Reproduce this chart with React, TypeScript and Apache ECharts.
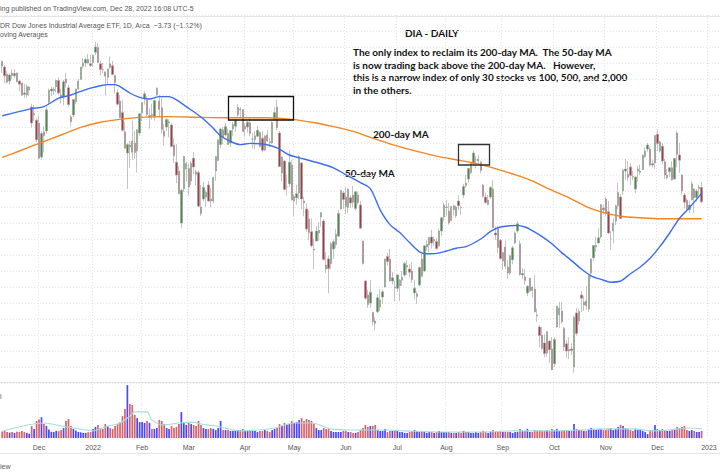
import { useEffect, useRef } from "react";
import * as echarts from "echarts";

// ---- Trading calendar (categories) ----
const HOLIDAYS = ["2021-11-25","2021-12-24","2022-01-17","2022-02-21","2022-04-15","2022-05-30","2022-06-20","2022-07-04","2022-09-05","2022-11-24","2022-12-26","2023-01-02"];
const FIRST_DAY = "2021-11-09";
const CATEGORY_COUNT = 293; // includes a few empty future sessions (right margin)
const MONTHS = ["Jan","Feb","Mar","Apr","May","Jun","Jul","Aug","Sep","Oct","Nov","Dec"];

// ---- Daily bars [open, high, low, close] ----
const nov21 = [[364.4,364.6,361.5,363.2],[363.0,363.4,358.9,360.8],[361.2,362.0,358.9,359.2],[359.5,361.4,358.6,361.0],[361.5,362.4,359.9,360.9],[360.8,362.5,360.3,361.4],[361.5,361.6,359.2,359.3],[359.5,359.6,356.9,358.7],[359.0,359.0,355.7,356.0],[356.5,358.8,355.4,356.2],[356.0,358.7,355.4,358.1],[357.2,358.2,355.8,358.0],[353.0,353.8,347.9,349.0],[351.0,353.5,349.5,351.4],[349.7,350.2,344.2,344.8]];
const dec21 = [[349.0,350.9,340.0,340.2],[340.5,346.9,339.9,346.4],[346.8,348.2,341.6,345.8],[347.0,353.0,346.3,352.3],[354.2,357.6,353.6,357.2],[357.0,358.1,355.7,357.5],[357.1,358.0,356.0,357.5],[358.0,359.8,356.7,359.7],[359.6,360.4,356.1,356.5],[356.0,357.6,353.9,355.4],[355.5,359.8,353.4,359.3],[360.0,361.5,357.9,359.0],[357.8,358.5,353.1,353.6],[350.5,351.0,348.1,349.3],[351.0,355.0,350.5,354.9],[354.3,357.6,353.7,357.5],[357.5,360.0,357.3,359.5],[359.9,363.0,359.9,363.0],[363.2,365.2,362.6,364.0],[364.0,365.3,363.0,364.9],[364.9,366.2,363.8,364.0],[363.8,366.0,363.0,363.4]];
const jan22 = [[364.1,366.1,363.1,365.9],[366.7,369.3,366.0,368.0],[367.9,369.0,364.0,364.1],[363.8,364.5,361.0,362.4],[362.4,364.0,361.5,362.3],[361.8,361.8,355.9,360.7],[360.4,362.6,358.8,362.5],[363.8,365.6,362.5,362.9],[363.3,364.5,360.9,361.1],[360.9,360.9,356.4,359.1],[356.6,357.4,353.4,353.7],[354.5,356.0,350.3,350.3],[351.6,354.7,346.8,347.2],[346.8,349.3,342.6,342.7],[341.5,343.9,332.5,343.6],[343.5,344.5,337.8,343.0],[344.5,349.6,339.8,341.7],[344.0,347.0,340.0,341.6],[342.0,347.4,336.6,347.3],[346.5,351.5,345.8,351.3]];
const feb22 = [[351.5,354.2,349.5,354.1],[355.0,356.9,353.6,356.3],[354.8,355.7,350.7,351.1],[350.5,352.6,347.6,350.9],[351.2,353.8,349.8,350.9],[350.6,354.9,349.6,354.6],[356.0,357.9,355.8,357.7],[354.5,356.1,350.4,352.4],[352.8,355.4,346.4,347.4],[347.0,348.7,343.4,345.7],[348.0,350.2,347.0,349.9],[349.0,349.9,345.4,349.3],[348.5,349.0,342.9,343.1],[343.5,345.2,339.0,340.8],[339.2,343.7,334.0,336.0],[337.0,338.3,331.3,331.3],[324.0,332.5,322.7,332.2],[332.5,340.8,331.8,340.6],[337.5,339.3,334.3,338.9]];
const mar22 = [[337.6,338.9,331.0,333.0],[334.5,339.6,333.5,339.0],[340.2,341.7,336.2,338.0],[336.8,337.3,333.4,336.2],[336.6,337.1,328.0,328.2],[328.0,333.5,325.8,326.3],[330.0,334.3,329.5,332.9],[330.5,332.3,328.0,331.7],[333.5,334.5,329.3,329.5],[330.0,332.7,327.9,329.5],[329.5,335.5,328.8,335.4],[337.0,340.7,334.5,340.6],[339.6,344.9,339.5,344.8],[343.6,347.7,342.7,347.5],[347.3,348.0,343.7,345.5],[346.0,349.0,345.6,348.1],[346.4,347.6,343.5,343.6],[344.0,347.2,343.0,347.1],[347.5,349.3,345.8,348.6],[348.2,350.0,346.9,349.6],[351.0,353.7,350.6,352.9],[352.5,353.0,350.5,352.3],[352.4,352.5,346.8,346.8]];
const apr22 = [[347.5,349.0,345.6,348.2],[348.0,349.5,346.6,349.2],[349.0,350.4,345.7,346.4],[345.0,346.5,342.6,345.0],[344.8,347.0,342.5,345.8],[345.7,348.3,345.4,347.2],[346.6,346.9,342.9,343.1],[345.2,347.0,341.7,342.2],[342.2,346.0,342.0,345.7],[346.0,347.2,344.2,344.5],[344.3,345.2,342.9,344.1],[344.0,349.4,343.8,349.1],[350.0,352.9,349.5,351.6],[353.0,354.9,347.2,347.9],[346.5,347.0,338.0,338.1],[336.5,340.7,334.4,340.5],[339.5,339.7,332.3,332.4],[333.0,336.1,330.8,333.0],[333.8,342.1,333.0,339.2],[338.5,339.8,329.6,329.8]];
const may22 = [[329.5,331.2,325.8,330.6],[330.3,333.5,328.6,331.3],[331.5,341.0,329.9,340.6],[339.0,339.2,327.5,330.0],[329.5,330.5,325.7,329.0],[327.5,328.9,321.8,322.5],[325.0,327.3,319.8,321.6],[321.8,325.1,317.9,318.3],[317.5,320.1,312.5,317.3],[319.5,323.2,319.4,322.0],[321.5,324.2,319.6,322.2],[325.5,326.6,323.1,326.6],[324.5,325.0,314.6,314.9],[313.5,316.7,311.5,312.5],[315.0,315.8,306.4,312.6],[313.8,319.3,312.4,318.8],[317.5,319.9,315.0,319.3],[318.6,322.5,317.7,321.2],[320.7,327.3,320.7,326.4],[327.5,332.3,327.4,332.1],[331.5,332.0,327.5,329.9]];
const jun22 = [[330.5,333.0,326.2,328.1],[327.9,332.6,326.5,332.5],[330.3,331.0,327.8,329.0],[331.0,333.3,328.0,329.2],[327.6,332.0,327.2,331.8],[331.0,331.8,328.6,329.1],[328.5,329.5,322.6,322.7],[319.5,319.6,313.6,313.9],[309.5,309.7,304.8,305.2],[306.0,307.3,302.8,303.6],[304.0,309.8,302.8,306.7],[301.6,301.8,298.4,299.3],[299.5,300.4,297.2,298.9],[301.8,306.2,301.5,305.3],[303.0,307.4,302.0,304.8],[305.5,307.4,303.8,306.8],[308.0,315.1,307.9,315.0],[315.6,316.5,313.4,314.4],[315.0,317.5,309.3,309.5],[309.5,311.8,308.6,310.3],[308.0,309.6,304.4,307.8]];
const jul22 = [[307.7,311.2,306.8,311.0],[308.3,310.0,304.5,309.7],[309.7,312.0,308.2,310.4],[311.0,314.3,310.6,313.9],[313.0,314.7,311.0,313.4],[312.5,313.7,310.4,311.7],[312.0,314.3,309.0,309.8],[306.5,309.8,304.9,307.7],[305.6,306.9,303.7,306.3],[308.5,313.0,308.2,312.9],[315.0,316.3,310.4,310.7],[312.0,318.4,311.9,318.3],[318.0,319.7,317.1,318.7],[318.5,320.5,316.7,320.4],[320.5,322.3,317.6,319.0],[319.5,320.6,318.2,319.9],[319.4,320.2,317.3,317.6],[318.3,322.5,318.0,322.0],[322.0,325.4,320.7,325.3],[325.5,329.0,324.4,328.5]];
const aug22 = [[327.9,329.8,325.7,328.0],[327.0,329.0,323.6,324.0],[324.6,328.3,324.4,328.1],[328.3,328.6,325.9,327.3],[325.8,328.4,325.3,328.0],[329.5,331.0,327.2,328.3],[327.9,328.2,326.1,327.8],[331.0,333.8,330.2,333.1],[334.0,336.0,332.8,333.4],[335.0,337.7,334.0,337.6],[336.6,339.3,336.2,339.1],[338.8,342.1,338.5,341.5],[339.8,340.8,337.7,339.8],[339.5,341.0,338.5,340.0],[339.2,339.4,336.4,337.1],[333.5,333.8,330.4,330.6],[330.5,331.6,328.8,329.1],[328.6,331.0,328.4,329.7],[330.5,333.2,330.0,332.9],[332.5,334.7,322.7,322.8],[321.5,323.1,319.8,321.0],[322.5,323.3,316.5,317.9],[319.7,320.0,314.8,315.1]];
const sep22 = [[314.5,316.8,312.3,316.6],[318.0,319.6,312.5,313.2],[313.0,314.7,310.0,311.5],[311.5,316.1,311.0,315.8],[314.8,318.3,313.7,317.8],[319.0,321.9,318.7,321.5],[322.0,324.4,321.6,323.8],[318.8,319.6,310.8,311.1],[311.0,312.7,310.0,311.4],[310.5,312.5,308.5,309.6],[306.5,308.4,305.7,308.2],[307.0,310.3,306.8,310.2],[308.0,308.2,305.4,307.1],[307.5,311.0,301.7,301.8],[301.0,302.6,299.2,300.8],[298.0,298.5,292.9,295.9],[296.0,298.0,292.2,292.6],[294.0,296.3,290.4,291.4],[291.5,297.0,290.5,296.8],[294.5,294.6,289.0,292.3],[292.5,295.5,287.2,287.3]];
const oct22 = [[288.8,295.4,288.0,294.9],[298.0,303.3,297.8,303.2],[301.0,304.3,297.8,302.7],[302.0,304.2,298.8,299.3],[297.6,298.0,292.0,293.0],[293.8,294.7,290.3,292.0],[292.0,295.4,290.0,292.4],[292.5,293.9,291.0,292.1],[288.0,300.8,286.6,300.4],[301.5,302.8,295.8,296.4],[299.5,302.5,298.5,301.9],[306.0,307.0,301.7,305.2],[303.5,305.8,302.0,304.2],[304.5,308.3,302.3,303.3],[302.5,311.0,301.8,310.8],[311.5,315.2,310.0,315.0],[315.3,318.5,314.5,318.4],[318.0,320.6,316.8,318.4],[319.0,322.7,318.9,320.3],[320.5,328.7,320.1,328.6],[327.7,328.6,326.1,327.3]];
const nov22 = [[330.0,330.5,325.7,326.5],[326.8,329.5,321.3,321.5],[320.0,322.0,317.3,320.0],[322.0,325.2,318.9,324.0],[324.5,328.6,323.5,328.3],[328.3,334.0,327.5,331.6],[330.5,331.2,324.9,325.1],[332.0,337.5,331.0,337.2],[337.0,340.0,334.8,337.5],[336.2,339.5,334.4,335.4],[338.0,339.0,333.5,335.9],[335.6,337.0,334.7,335.5],[332.5,335.6,331.5,335.5],[337.0,338.3,334.3,337.5],[336.7,338.6,336.0,337.0],[337.4,341.1,337.2,341.0],[340.6,342.9,340.3,342.0],[342.5,344.0,341.8,343.5],[342.5,343.0,338.1,338.5],[338.8,339.8,337.9,338.5],[339.0,346.0,337.5,345.9]];
const dec22 = [[346.2,347.3,342.0,343.9],[342.0,344.6,341.6,344.3],[343.2,344.0,338.7,339.5],[339.3,340.0,335.0,336.0],[335.3,337.5,334.8,336.0],[336.8,338.0,335.5,337.8],[337.8,339.5,334.6,334.8],[335.0,340.3,334.9,340.1],[346.5,347.1,337.9,341.1],[341.0,344.0,336.5,339.7],[336.0,336.2,331.1,332.0],[331.0,331.5,327.6,329.2],[329.7,330.2,327.1,327.6],[327.3,329.5,326.5,328.5],[329.8,334.4,329.6,333.8],[332.5,332.7,326.5,330.3],[330.4,332.5,329.3,332.0],[332.6,333.6,330.8,333.0],[332.9,334.2,329.0,329.3]];

// ---- Volume (millions of shares) ----
const volNov21 = [2.3,2.6,2.1,1.9,2.1,1.8,2.2,2.1,2.5,2.1,1.8,1.5,4.2,3.2,6.0];
const volDec21 = [6.5,7.3,4.9,4.2,3.0,2.2,2.1,2.5,2.4,2.8,3.5,6.0,6.7,4.2,3.2,2.6,2.1,2.0,1.8,1.8,2.0,2.1];
const volJan22 = [3.2,3.9,4.6,3.5,3.2,4.9,4.2,3.5,3.2,4.2,4.9,5.6,7.7,10.2,18.6,12.0,11.6,8.1,7.0,5.6];
const volFeb22 = [5.6,5.3,6.0,5.3,3.2,3.2,3.5,6.3,6.0,4.9,3.5,3.2,4.2,3.5,3.9,4.9,9.1,5.6,4.6];
const volMar22 = [5.3,4.9,4.6,4.2,6.0,4.6,3.5,3.2,3.2,3.5,3.2,2.8,3.5,6.0,2.8,2.8,2.8,2.5,2.5,2.5,2.8,2.8,3.2];
const volApr22 = [2.5,2.5,2.8,2.5,2.5,2.1,2.5,2.5,2.8,2.5,2.1,2.8,3.2,3.5,4.9,4.2,5.3,4.6,4.9,6.0];
const volMay22 = [5.3,5.6,6.3,7.0,6.0,6.7,6.3,6.0,4.9,3.5,2.8,2.8,3.5,3.2,3.2,2.5,2.1,2.1,2.1,2.1,2.5];
const volJun22 = [2.5,2.1,2.1,1.8,1.8,2.1,2.8,3.5,4.6,3.9,4.2,4.2,4.6,2.8,2.5,2.5,3.2,2.1,2.5,2.5,2.8];
const volJul22 = [2.5,2.1,2.1,1.8,1.8,2.1,2.5,2.8,2.5,2.1,2.5,2.1,1.8,2.1,2.1,1.8,2.1,2.5,2.1,2.1];
const volAug22 = [2.1,2.1,1.8,1.8,1.8,2.1,1.8,2.5,2.1,2.1,1.8,1.8,2.1,1.8,2.1,2.5,2.1,1.8,2.1,2.8,2.1,2.1,2.5];
const volSep22 = [2.1,2.1,2.1,2.1,1.8,2.1,2.1,3.2,2.5,2.5,3.2,2.1,2.1,2.8,2.5,2.8,2.5,2.5,2.8,2.5,3.2];
const volOct22 = [2.8,3.2,2.5,2.5,2.8,2.5,2.5,2.5,4.9,3.2,2.8,2.8,2.5,2.5,3.2,3.5,3.2,2.8,3.2,3.2,2.8];
const volNov22 = [2.8,3.2,3.5,2.8,3.2,3.9,4.6,4.2,3.5,3.2,2.8,2.5,3.2,2.8,2.8,2.5,2.1,1.4,2.8,2.8,4.6];
const volDec22 = [3.2,2.8,3.2,2.8,2.5,2.5,2.8,3.2,3.9,3.5,3.9,4.2,2.8,2.5,2.8,2.5,2.1,2.1,2.5];

// ---- Moving averages: [bar index, value] ----
const ma50 = [[0,350.8],[12,352.6],[17,353.1],[23,355.2],[28,356.0],[32,356.9],[36,357.7],[40,358.3],[43,358.6],[46,358.6],[48,358.1],[52,356.5],[56,355.4],[60,355.0],[64,355.6],[68,355.6],[71,354.8],[75,353.1],[81,350.5],[85,348.3],[89,345.8],[93,344.4],[97,343.6],[101,343.9],[107,343.7],[112,342.8],[117,341.0],[123,340.0],[129,339.0],[135,337.8],[140,336.1],[146,334.1],[150,332.6],[154,327.3],[158,323.6],[162,321.6],[166,319.1],[170,316.8],[173,316.3],[177,316.4],[181,317.0],[185,317.7],[189,318.1],[195,320.0],[199,321.9],[203,323.0],[207,323.3],[210,323.4],[213,323.0],[216,322.1],[220,320.6],[224,318.8],[228,316.6],[232,314.6],[236,312.5],[240,310.8],[244,309.9],[248,309.2],[252,309.5],[256,311.3],[260,313.0],[264,315.2],[268,318.1],[272,321.5],[276,325.2],[280,327.8],[285,331.4]];
const ma200 = [[0,340.4],[7,342.0],[15,343.9],[24,346.0],[32,347.9],[40,349.2],[48,349.9],[56,350.4],[67,350.6],[81,350.4],[94,350.3],[108,350.3],[118,349.9],[128,349.0],[135,348.1],[143,346.9],[151,345.2],[159,343.6],[169,341.9],[178,340.6],[187,339.6],[195,338.6],[203,337.2],[215,334.8],[222,332.7],[230,330.6],[238,328.1],[244,326.8],[252,325.7],[260,325.3],[268,325.05],[285,325.05]];
const volMa = [[0,2.4],[17,5.3],[24,4.2],[29,3.5],[37,2.5],[42,3.9],[48,5.3],[52,7.7],[54,9.2],[59,9.2],[61,6.3],[66,4.6],[72,5.3],[78,5.6],[81,4.9],[87,4.2],[97,2.5],[104,2.8],[111,3.5],[119,5.3],[126,5.3],[134,3.2],[141,2.8],[149,2.8],[156,2.8],[164,2.5],[179,2.1],[193,2.1],[209,2.5],[224,2.5],[235,2.8],[246,3.2],[257,3.2],[265,2.5],[272,2.8],[280,3.5],[285,3.2]];

const NOTE_LINES = [
  "The only index to reclaim its 200-day MA.  The 50-day MA",
  "is now trading back above the 200-day MA.   However,",
  "this is a narrow index of only 30 stocks vs 100, 500, and 2,000",
  "in the others.",
];

function tradingDays(start: string, count: number): string[] {
  const out: string[] = [];
  const d = new Date(start + "T00:00:00Z");
  while (out.length < count) {
    const dow = d.getUTCDay();
    const s = d.toISOString().slice(0, 10);
    if (dow !== 0 && dow !== 6 && !HOLIDAYS.includes(s)) out.push(s);
    d.setUTCDate(d.getUTCDate() + 1);
  }
  return out;
}

export default function App() {
  const ref = useRef<HTMLDivElement>(null);
  useEffect(() => {
    if (!ref.current) return;
    const chart = echarts.init(ref.current, undefined, { renderer: "svg" });
    const dates = tradingDays(FIRST_DAY, CATEGORY_COUNT);
    const bars = [...nov21, ...dec21, ...jan22, ...feb22, ...mar22, ...apr22, ...may22, ...jun22, ...jul22, ...aug22, ...sep22, ...oct22, ...nov22, ...dec22];
    const vols = [...volNov21, ...volDec21, ...volJan22, ...volFeb22, ...volMar22, ...volApr22, ...volMay22, ...volJun22, ...volJul22, ...volAug22, ...volSep22, ...volOct22, ...volNov22, ...volDec22];
    const candleData = bars.map(([o, h, l, c]) => [o, c, l, h]);
    const volData = vols.map((v, i) => ({
      value: v,
      itemStyle: { color: bars[i] && bars[i][3] >= bars[i][0] ? "rgba(40,40,250,0.85)" : "rgba(200,60,72,0.8)" },
    }));
    const isMonthStart = (i: number) => i > 0 && i < dates.length && dates[i].slice(0, 7) !== dates[i - 1].slice(0, 7);
    const gridLine = { show: true, interval: (i: number) => isMonthStart(i), lineStyle: { color: "#e3e3e3", type: [1, 2] as any, width: 1 } };
    const textCommon = { fontFamily: "Liberation Sans, Arial, sans-serif" };
    const noteFont = { fontFamily: "'Liberation Sans Narrow', Lato, sans-serif", fontWeight: "bold" as const, fontSize: 10, fill: "#111" };

    chart.setOption({
      animation: false,
      backgroundColor: "#ffffff",
      grid: [
        { left: 1, right: 0, top: 15, height: 368 },
        { left: 1, right: 0, top: 384, height: 54 },
      ],
      xAxis: [
        { type: "category", gridIndex: 0, data: dates, boundaryGap: true, axisLine: { show: false }, axisTick: { show: false }, axisLabel: { show: false }, splitLine: gridLine },
        {
          type: "category", gridIndex: 1, data: dates, boundaryGap: true, axisLine: { show: false }, axisTick: { show: false },
          axisLabel: {
            show: true, interval: (i: number) => isMonthStart(i), fontSize: 7, color: "#555", margin: 6, ...textCommon,
            formatter: (v: string) => { const m = +v.slice(5, 7); return m === 1 ? v.slice(0, 4) : MONTHS[m - 1]; },
          },
          splitLine: gridLine,
        },
      ],
      yAxis: [
        { type: "value", gridIndex: 0, min: 284, max: 376, interval: 4, axisLabel: { show: false }, axisLine: { show: false }, axisTick: { show: false }, splitLine: { show: true, lineStyle: { color: "#e8e8e8", type: [1, 2] as any } } },
        { type: "value", gridIndex: 1, min: 0, max: 19, axisLabel: { show: false }, axisLine: { show: false }, axisTick: { show: false }, splitLine: { show: false } },
      ],
      series: [
        {
          type: "candlestick", xAxisIndex: 0, yAxisIndex: 0, data: candleData, barWidth: 1.9,
          itemStyle: { color: "#468c46", color0: "#a83846", borderColor: "#9c9c9c", borderColor0: "#9c9c9c", borderWidth: 0.6 },
        },
        { type: "line", xAxisIndex: 0, yAxisIndex: 0, data: ma200, smooth: 0.3, showSymbol: false, lineStyle: { color: "#f5841f", width: 1.4 }, z: 3 },
        { type: "line", xAxisIndex: 0, yAxisIndex: 0, data: ma50, smooth: 0.3, showSymbol: false, lineStyle: { color: "#3a6df0", width: 1.4 }, z: 3 },
        { type: "bar", xAxisIndex: 1, yAxisIndex: 1, data: volData, barWidth: 1.7 },
        { type: "line", xAxisIndex: 1, yAxisIndex: 1, data: volMa, smooth: 0.3, showSymbol: false, lineStyle: { color: "#a6dedc", width: 1.1 }, z: 3 },
      ],
      graphic: [
        { type: "text", x: 0, y: 8, style: { text: "ing published on TradingView.com, Dec 28, 2022 16:08 UTC-5", fontSize: 7, fill: "#555", verticalAlign: "middle", ...textCommon } },
        { type: "line", shape: { x1: 0, y1: 16.5, x2: 720, y2: 16.5 }, style: { stroke: "#e4e4e4", lineWidth: 1 } },
        { type: "text", x: 0, y: 25, style: { text: "DR Dow Jones Industrial Average ETF, 1D, Arca  \u22123.73 (\u22121.12%)", fontSize: 7, fill: "#555", verticalAlign: "middle", ...textCommon } },
        { type: "text", x: 0, y: 34, style: { text: "oving Averages", fontSize: 7, fill: "#555", verticalAlign: "middle", ...textCommon } },
        { type: "line", shape: { x1: 0, y1: 382.5, x2: 720, y2: 382.5 }, style: { stroke: "#e4e4e4", lineWidth: 1 } },
        { type: "text", x: 0, y: 396, style: { text: "l", fontSize: 7, fill: "#555", verticalAlign: "middle", ...textCommon } },
        { type: "line", shape: { x1: 0, y1: 453.5, x2: 720, y2: 453.5 }, style: { stroke: "#e4e4e4", lineWidth: 1 } },
        { type: "text", x: 0, y: 466, style: { text: "iew", fontSize: 7, fill: "#555", verticalAlign: "middle", ...textCommon } },
        { type: "text", x: 405, y: 33, style: { text: "DIA - DAILY", verticalAlign: "middle", ...noteFont } },
        ...NOTE_LINES.map((t, k) => ({ type: "text", x: 353, y: 52 + k * 12.6, style: { text: t, verticalAlign: "middle", ...noteFont } })),
        { type: "text", x: 373, y: 133.5, style: { text: "200-day MA", verticalAlign: "middle", ...noteFont } },
        { type: "text", x: 345, y: 172.5, style: { text: "50-day MA", verticalAlign: "middle", ...noteFont } },
        { type: "rect", shape: { x: 228.5, y: 96.5, width: 65, height: 23.5 }, style: { fill: "none", stroke: "#111", lineWidth: 1.3 }, z: 10 },
        { type: "rect", shape: { x: 458.5, y: 144.5, width: 31, height: 20.5 }, style: { fill: "none", stroke: "#333", lineWidth: 1.3 }, z: 10 },
      ],
    });
    return () => chart.dispose();
  }, []);
  return <div ref={ref} style={{ position: "fixed", left: 0, top: 0, width: 720, height: 475, background: "#fff" }} />;
}
